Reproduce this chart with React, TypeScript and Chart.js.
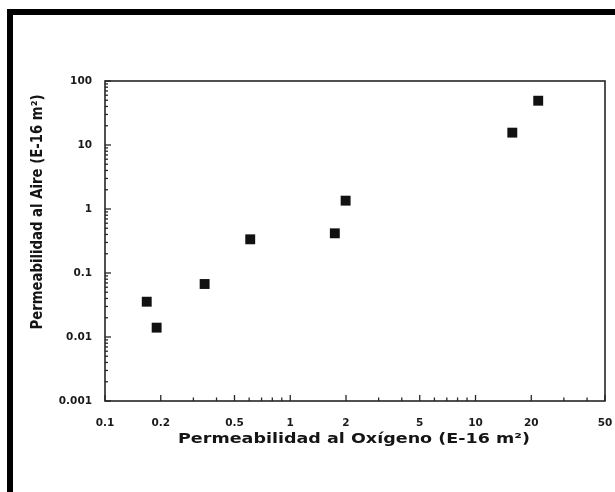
import React, { useEffect, useRef } from "react";
import { Chart, registerables } from "chart.js";

Chart.register(...registerables);

// Oxygen permeability (E-16 m²)
const oxygenPerm = [0.168, 0.19, 0.345, 0.608, 1.74, 1.99, 15.8, 21.8];
// Air permeability (E-16 m²)
const airPerm = [0.0356, 0.014, 0.0673, 0.336, 0.417, 1.35, 15.6, 49.2];

const xTickValues = [0.1, 0.2, 0.5, 1, 2, 5, 10, 20, 50];
const xTickLabels = ["0.1", "0.2", "0.5", "1", "2", "5", "10", "20", "50"];
const yTickValues = [0.001, 0.01, 0.1, 1, 10, 100];
const yTickLabels = ["0.001", "0.01", "0.1", "1", "10", "100"];

const xTitle = "Permeabilidad al Oxígeno (E-16 m²)";
const yTitle = "Permeabilidad al Aire (E-16 m²)";

const FONT = '"DejaVu Sans", "Liberation Sans", Arial, sans-serif';

function minorValues(min: number, max: number): number[] {
  const out: number[] = [];
  let dec = Math.pow(10, Math.floor(Math.log10(min)));
  while (dec <= max) {
    for (let m = 1; m <= 9; m++) {
      const v = +(m * dec).toPrecision(6);
      if (v >= min * 0.999 && v <= max * 1.001) out.push(v);
    }
    dec *= 10;
  }
  return out;
}

const framePlugin = {
  id: "frameAndTitles",
  beforeDatasetsDraw(chart: any) {
    const { ctx, chartArea } = chart;
    const { left, right, top, bottom } = chartArea;
    const xs = chart.scales.x;
    const ys = chart.scales.y;
    ctx.save();
    ctx.strokeStyle = "#262626";
    ctx.lineWidth = 1.6;
    ctx.strokeRect(left, top, right - left, bottom - top);
    ctx.lineWidth = 1.3;
    for (const v of minorValues(0.1, 50)) {
      const px = xs.getPixelForValue(v);
      const major = xTickValues.includes(v);
      const len = major ? 6 : 3.5;
      ctx.beginPath();
      ctx.moveTo(px, bottom);
      ctx.lineTo(px, bottom - len);
      ctx.stroke();
    }
    for (const v of minorValues(0.001, 100)) {
      const py = ys.getPixelForValue(v);
      const major = yTickValues.includes(v);
      const len = major ? 6 : 3;
      ctx.beginPath();
      ctx.moveTo(left, py);
      ctx.lineTo(left + len, py);
      ctx.stroke();
    }
    ctx.restore();
  },
  afterDraw(chart: any) {
    const { ctx } = chart;
    ctx.save();
    ctx.fillStyle = "#151515";
    ctx.font = `bold 12px ${FONT}`;
    ctx.textAlign = "center";
    ctx.textBaseline = "middle";
    {
      const w = ctx.measureText(xTitle).width;
      ctx.save();
      ctx.translate(354, 440);
      ctx.scale(352 / w, 1.1);
      ctx.fillText(xTitle, 0, 0);
      ctx.restore();
    }
    {
      const w = ctx.measureText(yTitle).width;
      ctx.save();
      ctx.translate(38, 212);
      ctx.rotate(-Math.PI / 2);
      ctx.scale(235 / w, 1.3);
      ctx.fillText(yTitle, 0, 0);
      ctx.restore();
    }
    ctx.restore();
  },
};

export default function App() {
  const ref = useRef<HTMLCanvasElement | null>(null);

  useEffect(() => {
    if (!ref.current) return;
    const points = oxygenPerm.map((x, i) => ({ x, y: airPerm[i] }));
    const chart = new Chart(ref.current, {
      type: "scatter",
      data: {
        datasets: [
          {
            data: points,
            pointStyle: "rect",
            pointRadius: 7,
            pointHoverRadius: 7,
            backgroundColor: "#111",
            borderColor: "#111",
            borderWidth: 0,
          },
        ],
      },
      options: {
        animation: false,
        responsive: false,
        maintainAspectRatio: false,
        devicePixelRatio: 1,
        layout: { padding: { left: 0, top: 81, right: 10, bottom: 0 } },
        plugins: { legend: { display: false }, tooltip: { enabled: false } },
        scales: {
          x: {
            type: "logarithmic",
            min: 0.1,
            max: 50,
            afterBuildTicks: (scale: any) => {
              scale.ticks = xTickValues.map((v) => ({ value: v }));
            },
            afterFit: (scale: any) => {
              scale.height = 91;
              scale.paddingLeft = 0;
              scale.paddingRight = 0;
            },
            grid: { display: false, drawTicks: false },
            border: { display: false },
            ticks: {
              autoSkip: false,
              maxRotation: 0,
              padding: 16,
              color: "#1a1a1a",
              font: { family: FONT, size: 10.5, weight: "bold" },
              callback: (_v: any, i: number) => xTickLabels[i],
            },
          },
          y: {
            type: "logarithmic",
            min: 0.001,
            max: 100,
            afterBuildTicks: (scale: any) => {
              scale.ticks = yTickValues.map((v) => ({ value: v }));
            },
            afterFit: (scale: any) => {
              scale.width = 105;
              scale.paddingTop = 0;
              scale.paddingBottom = 0;
            },
            grid: { display: false, drawTicks: false },
            border: { display: false },
            ticks: {
              autoSkip: false,
              padding: 13,
              color: "#1a1a1a",
              font: { family: FONT, size: 10.5, weight: "bold" },
              callback: (_v: any, i: number) => yTickLabels[i],
            },
          },
        },
      },
      plugins: [framePlugin],
    } as any);
    return () => chart.destroy();
  }, []);

  return (
    <div
      style={{
        position: "fixed",
        left: 0,
        top: 0,
        width: 615,
        height: 492,
        background: "#fff",
        overflow: "hidden",
      }}
    >
      <canvas
        ref={ref}
        width={615}
        height={492}
        style={{ position: "absolute", left: 0, top: 0, width: 615, height: 492 }}
      />
      <div
        style={{
          position: "absolute",
          left: 7,
          top: 9,
          width: 700,
          height: 600,
          borderTop: "6px solid #000",
          borderLeft: "6px solid #000",
          boxSizing: "border-box",
          pointerEvents: "none",
        }}
      />
    </div>
  );
}
